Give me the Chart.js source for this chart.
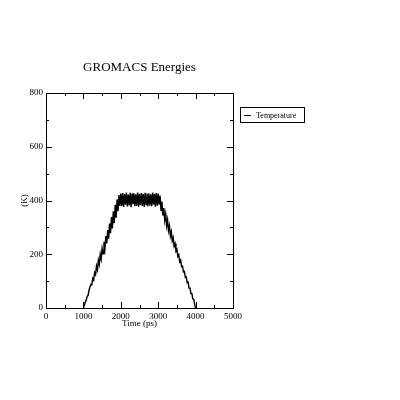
<!DOCTYPE html>
<html>
<head>
<meta charset="utf-8">
<script src="https://cdn.jsdelivr.net/npm/chart.js@4"></script>
<style>
  html, body { margin: 0; padding: 0; background: #fff; }
  #wrap { width: 400px; height: 400px; position: relative; }
</style>
</head>
<body>
<div id="wrap"><canvas id="chart" width="400" height="400"></canvas></div>
<script>
// GROMACS temperature trace (ps, K)
const times = [
  1000, 1025, 1050, 1075, 1100, 1125, 1150, 1175, 1200, 1225,
  1250, 1275, 1300, 1325, 1350, 1375, 1400, 1425, 1450, 1475,
  1500, 1525, 1550, 1575, 1600, 1625, 1650, 1675, 1700, 1725,
  1750, 1775, 1800, 1825, 1850, 1875, 1900, 1925, 1950, 1975,
  2000, 2025, 2050, 2075, 2100, 2125, 2150, 2175, 2200, 2225,
  2250, 2275, 2300, 2325, 2350, 2375, 2400, 2425, 2450, 2475,
  2500, 2525, 2550, 2575, 2600, 2625, 2650, 2675, 2700, 2725,
  2750, 2775, 2800, 2825, 2850, 2875, 2900, 2925, 2950, 2975,
  3000, 3025, 3050, 3075, 3100, 3125, 3150, 3175, 3200, 3225,
  3250, 3275, 3300, 3325, 3350, 3375, 3400, 3425, 3450, 3475,
  3500, 3525, 3550, 3575, 3600, 3625, 3650, 3675, 3700, 3725,
  3750, 3775, 3800, 3825, 3850, 3875, 3900, 3925, 3950, 3975,
  4000
]
const temperature = [
  0, 10, 22, 28, 44, 46, 66, 66, 88, 86,
  110, 104, 132, 124, 156, 142, 178, 162, 200, 182,
  222, 202, 246, 220, 268, 240, 290, 258, 314, 278,
  338, 296, 360, 316, 384, 336, 404, 360, 420, 380,
  426, 380, 428, 376, 424, 384, 430, 378, 422, 382,
  429, 375, 426, 386, 427, 379, 423, 381, 430, 377,
  425, 383, 428, 380, 424, 376, 429, 385, 426, 378,
  427, 382, 423, 379, 430, 384, 425, 377, 428, 381,
  426, 384, 418, 364, 396, 344, 372, 326, 350, 306,
  328, 288, 306, 268, 284, 250, 262, 230, 240, 212,
  218, 192, 198, 172, 178, 154, 156, 134, 136, 114,
  116, 94, 96, 74, 76, 54, 54, 34, 32, 14,
  0
]
const xTicks = [0, 1000, 2000, 3000, 4000, 5000]
const yTicks = [0, 200, 400, 600, 800]
const seriesName = 'Temperature'

const serif = '"Liberation Serif", "DejaVu Serif", serif'

// grace-style frame: box, inward ticks on all sides, title, axis labels, legend
const gracePlugin = {
  id: 'grace',
  afterDraw(chart) {
    const ctx = chart.ctx
    const a = chart.chartArea
    const xs = chart.scales.x
    const ys = chart.scales.y
    ctx.save()
    ctx.strokeStyle = '#000'
    ctx.lineWidth = 1
    ctx.strokeRect(a.left + 0.5, a.top + 0.5, a.right - a.left, a.bottom - a.top)

    ctx.beginPath()
    for (let v = 0; v <= 5000; v += 500) {
      const px = Math.round(xs.getPixelForValue(v)) + 0.5
      const len = v % 1000 === 0 ? 6 : 3
      ctx.moveTo(px, a.bottom); ctx.lineTo(px, a.bottom - len)
      ctx.moveTo(px, a.top); ctx.lineTo(px, a.top + len)
    }
    for (let v = 0; v <= 800; v += 100) {
      const py = Math.round(ys.getPixelForValue(v)) + 0.5
      const len = v % 200 === 0 ? 6 : 3
      ctx.moveTo(a.left, py); ctx.lineTo(a.left + len, py)
      ctx.moveTo(a.right, py); ctx.lineTo(a.right - len, py)
    }
    ctx.stroke()

    ctx.fillStyle = '#000'
    ctx.textAlign = 'center'
    ctx.textBaseline = 'middle'
    ctx.font = '13px ' + serif
    ctx.fillText('GROMACS Energies', (a.left + a.right) / 2, 68)

    ctx.font = '9px ' + serif
    ctx.fillText('Time (ps)', (a.left + a.right) / 2, 324)
    ctx.save()
    ctx.translate(25, (a.top + a.bottom) / 2)
    ctx.rotate(-Math.PI / 2)
    ctx.fillText('(K)', 0, 0)
    ctx.restore()

    // legend box
    ctx.strokeRect(240.5, 107.5, 64, 15)
    ctx.beginPath()
    ctx.moveTo(244, 115.5); ctx.lineTo(251, 115.5)
    ctx.stroke()
    ctx.textAlign = 'left'
    ctx.font = '8px ' + serif
    ctx.fillText(seriesName, 256, 115.5)
    ctx.restore()
  }
}

new Chart(document.getElementById('chart'), {
  type: 'line',
  data: {
    datasets: [{
      label: seriesName,
      data: times.map((t, i) => ({ x: t, y: temperature[i] })),
      borderColor: '#000',
      borderWidth: 1.4,
      pointRadius: 0,
      tension: 0,
      fill: false
    }]
  },
  options: {
    responsive: false,
    animation: false,
    devicePixelRatio: 1,
    layout: { padding: { top: 93, right: 167, left: 0, bottom: 0 } },
    plugins: {
      legend: { display: false },
      title: { display: false },
      tooltip: { enabled: false }
    },
    scales: {
      x: {
        type: 'linear',
        min: 0,
        max: 5000,
        afterFit(scale) { scale.height = 92 },
        afterBuildTicks(scale) { scale.ticks = xTicks.map(v => ({ value: v })) },
        grid: { display: false, drawTicks: false },
        border: { display: false },
        ticks: {
          color: '#000', padding: 3, maxRotation: 0, autoSkip: false,
          font: { family: serif, size: 9 },
          callback: v => String(v)
        }
      },
      y: {
        min: 0,
        max: 800,
        afterFit(scale) { scale.width = 46 },
        afterBuildTicks(scale) { scale.ticks = yTicks.map(v => ({ value: v })) },
        grid: { display: false, drawTicks: false },
        border: { display: false },
        ticks: {
          color: '#000', padding: 3, autoSkip: false,
          font: { family: serif, size: 9 },
          callback: v => String(v)
        }
      }
    }
  },
  plugins: [gracePlugin]
})
</script>
</body>
</html>
